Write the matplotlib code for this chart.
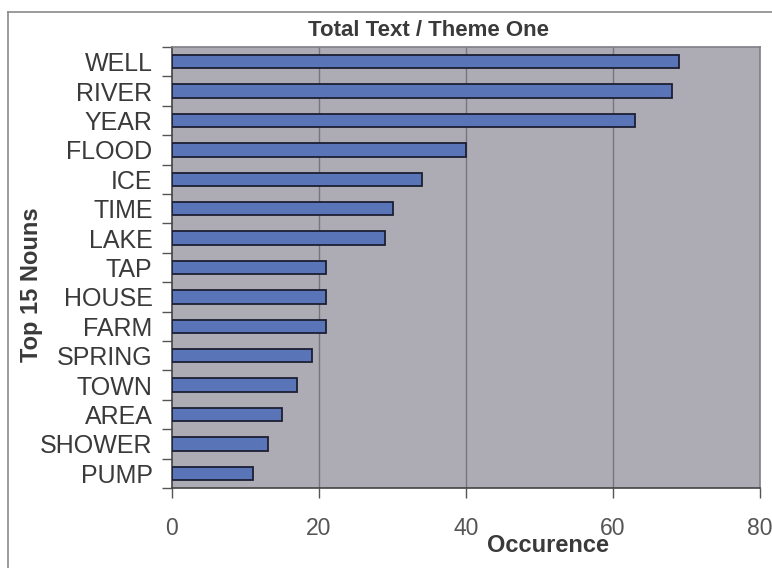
import matplotlib
matplotlib.use("Agg")
import matplotlib.pyplot as plt
from matplotlib.lines import Line2D
import numpy as np

plt.rcParams['font.family'] = ['Liberation Sans', 'DejaVu Sans']

nouns = ["WELL", "RIVER", "YEAR", "FLOOD", "ICE", "TIME", "LAKE", "TAP",
         "HOUSE", "FARM", "SPRING", "TOWN", "AREA", "SHOWER", "PUMP"]
counts = [69, 68, 63, 40, 34, 30, 29, 21, 21, 21, 19, 17, 15, 13, 11]
x_ticks = [0, 20, 40, 60, 80]

title = "Total Text / Theme One"
x_label = "Occurence"
y_label = "Top 15 Nouns"

text_color = "#3a3a3a"
tick_color = "#555555"

fig = plt.figure(figsize=(7.72, 5.68), dpi=100)
fig.patch.set_facecolor("white")

# Outer chart frame (top and left edges)
fig.add_artist(Line2D([8 / 772, 1.0], [1 - 12 / 568, 1 - 12 / 568],
                      transform=fig.transFigure, color="#8a8a8a", lw=1.2))
fig.add_artist(Line2D([8 / 772, 8 / 772], [0.0, 1 - 12 / 568],
                      transform=fig.transFigure, color="#8a8a8a", lw=1.2))

ax = fig.add_axes([172 / 772, 1 - 488 / 568, (760 - 172) / 772, (488 - 47) / 568])
ax.set_facecolor("#adabb3")

pos = np.arange(len(nouns))[::-1]
ax.barh(pos, counts, height=0.45, color="#5a74b8", edgecolor="#1c1f33",
        linewidth=1.3, zorder=3)

ax.set_xlim(x_ticks[0], x_ticks[-1])
ax.set_ylim(-0.5, len(nouns) - 0.5)

ax.set_xticks(x_ticks)
ax.set_xticklabels([str(t) for t in x_ticks], fontsize=16.5, color=tick_color)
ax.tick_params(axis="x", length=7, width=1, color="#555555", pad=14, direction="out")

ax.set_yticks(pos)
ax.set_yticklabels(nouns, fontsize=18, color=text_color)
ax.tick_params(axis="y", which="major", length=0, pad=14)
ax.set_yticks(np.arange(-0.5, len(nouns), 1.0), minor=True)
ax.tick_params(axis="y", which="minor", length=7, width=1, color="#555555")

for gx in x_ticks[1:-1]:
    ax.axvline(gx, color="#77757d", lw=1.0, zorder=1)

ax.spines["left"].set_color("#444444")
ax.spines["bottom"].set_color("#444444")
ax.spines["top"].set_color("#807e86")
ax.spines["right"].set_color("#807e86")
for s in ax.spines.values():
    s.set_linewidth(1.2)

fig.text(429 / 772, 1 - 31 / 568, title, ha="center", va="center",
         fontsize=16, fontweight="bold", color=text_color)
fig.text(548 / 772, 1 - 546 / 568, x_label, ha="center", va="center",
         fontsize=17, fontweight="bold", color=text_color)
fig.text(32 / 772, 1 - 285 / 568, y_label, ha="center", va="center",
         rotation=90, fontsize=17, fontweight="bold", color=text_color)

fig.savefig("out.png", dpi=100)
